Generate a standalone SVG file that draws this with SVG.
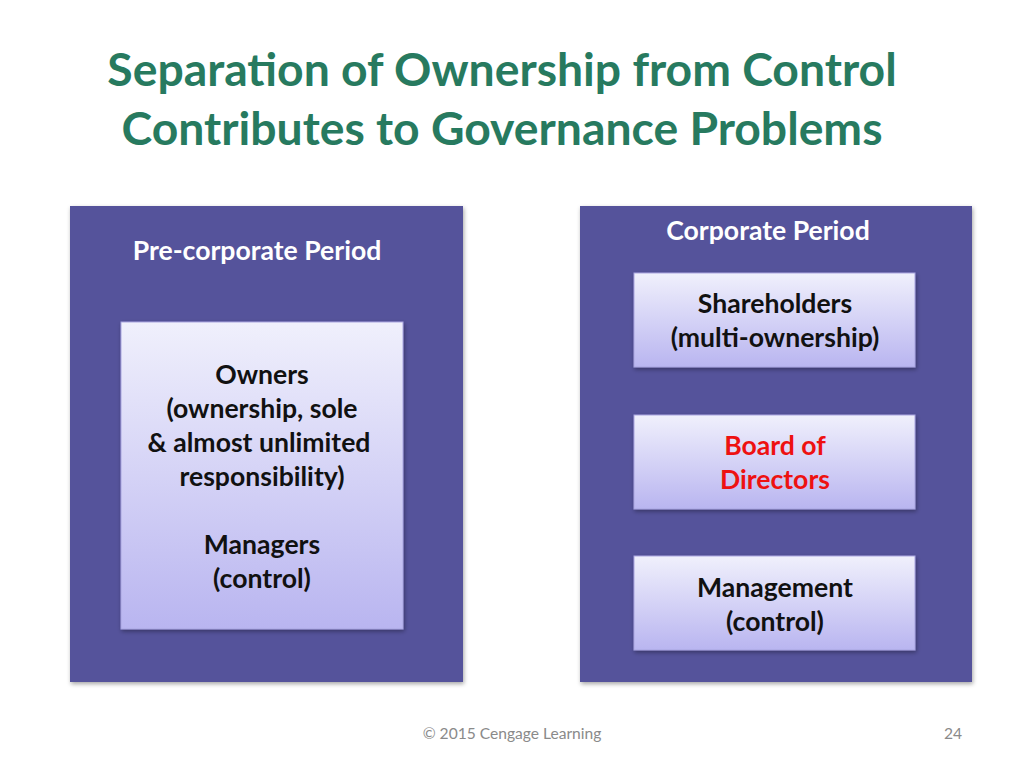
<svg xmlns="http://www.w3.org/2000/svg" width="1024" height="768" viewBox="0 0 1024 768">
<style>
.title{font-family:Lato,"Liberation Sans",sans-serif;font-weight:bold;font-size:46.3px;fill:#277a5f;text-anchor:middle}
.hdr{font-family:Lato,"Liberation Sans",sans-serif;font-weight:bold;font-size:26.6px;fill:#ffffff;text-anchor:middle}
.lbl{font-family:Lato,"Liberation Sans",sans-serif;font-weight:bold;font-size:26.6px;fill:#111111;text-anchor:middle}
.red{fill:#ee1111}
.outer{fill:#55529b}
.inner{fill:url(#g);stroke:#a9a6e0;stroke-width:1}
.foot{font-family:Lato,"Liberation Sans",sans-serif;font-size:15.6px;fill:#8a8a8a}
</style>
<defs>
<linearGradient id="g" x1="0" y1="0" x2="0" y2="1">
<stop offset="0" stop-color="#f0f0fc"/>
<stop offset="1" stop-color="#b9b5f0"/>
</linearGradient>
<filter id="sh" x="-10%" y="-10%" width="120%" height="125%">
<feDropShadow dx="1" dy="2" stdDeviation="2" flood-color="#000" flood-opacity="0.35"/>
</filter>
</defs>
<rect width="1024" height="768" fill="#ffffff"/>
<text class="title" x="502" y="86">Separation of Ownership from Control</text>
<text class="title" x="502" y="145">Contributes to Governance Problems</text>
<g id="pre-corporate">
<rect class="outer" x="70" y="206" width="393" height="476" filter="url(#sh)"/>
<text class="hdr" x="257" y="260">Pre-corporate Period</text>
</g>
<g id="owners">
<rect class="inner" x="121" y="322" width="282" height="307" filter="url(#sh)"/>
<text class="lbl" x="262" y="384">Owners</text>
<text class="lbl" x="262" y="418">(ownership, sole</text>
<text class="lbl" x="259" y="452">&amp; almost unlimited</text>
<text class="lbl" x="262" y="486">responsibility)</text>
<text class="lbl" x="262" y="554">Managers</text>
<text class="lbl" x="262" y="588">(control)</text>
</g>
<g id="corporate">
<rect class="outer" x="580" y="206" width="392" height="476" filter="url(#sh)"/>
<text class="hdr" x="768" y="240">Corporate Period</text>
</g>
<g id="shareholders">
<rect class="inner" x="634" y="273" width="281" height="94" filter="url(#sh)"/>
<text class="lbl" x="775" y="313">Shareholders</text>
<text class="lbl" x="775" y="347">(multi-ownership)</text>
</g>
<g id="board">
<rect class="inner" x="634" y="415" width="281" height="94" filter="url(#sh)"/>
<text class="lbl red" x="775" y="455">Board of</text>
<text class="lbl red" x="775" y="489">Directors</text>
</g>
<g id="management">
<rect class="inner" x="634" y="556" width="281" height="94" filter="url(#sh)"/>
<text class="lbl" x="775" y="597">Management</text>
<text class="lbl" x="775" y="631">(control)</text>
</g>
<g id="connectors"/>
<text class="foot" x="512" y="739" text-anchor="middle">© 2015 Cengage Learning</text>
<text class="foot" x="962" y="739" text-anchor="end">24</text>
</svg>
